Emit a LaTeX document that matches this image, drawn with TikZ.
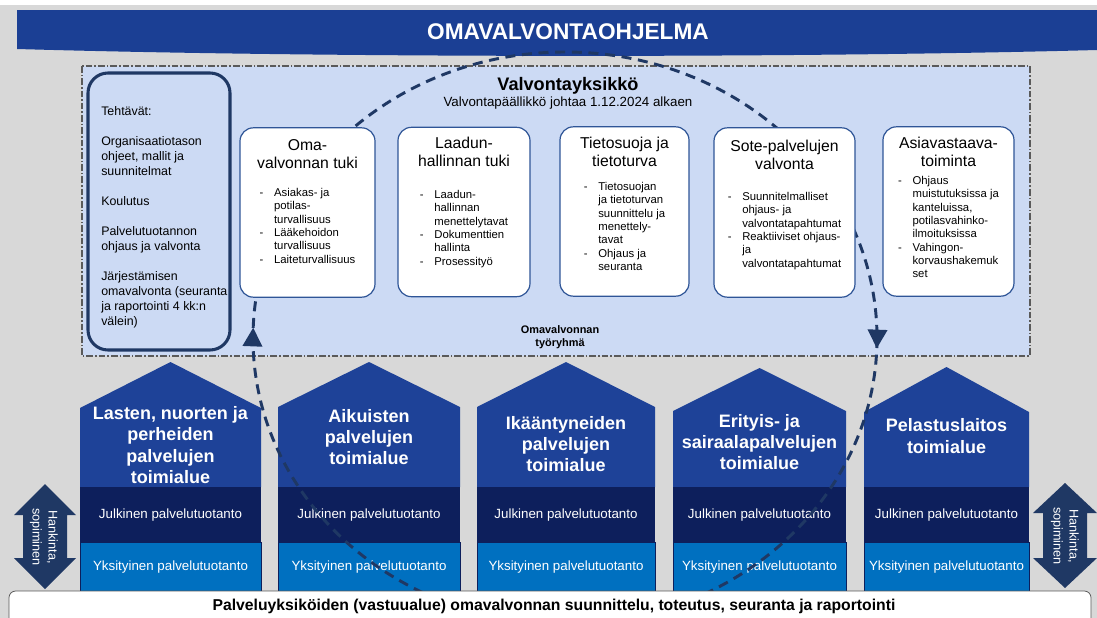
\documentclass[tikz,border=0pt]{standalone}
\usepackage{fontspec}
\setmainfont{Liberation Sans}
\usetikzlibrary{calc,arrows.meta,decorations.markings}

\definecolor{bannerblue}{HTML}{1B3F94}
\definecolor{houseblue}{HTML}{1E4298}
\definecolor{paleblue}{HTML}{CCDAF4}
\definecolor{navy}{HTML}{0D1F5C}
\definecolor{arrownavy}{HTML}{1F3864}
\definecolor{privblue}{HTML}{0070C0}
\definecolor{boxline}{HTML}{2F5597}
\definecolor{bggrey}{HTML}{D8D8D8}
\definecolor{framegrey}{HTML}{5A5A5A}

\tikzset{
  bannertext/.style={text=white, font=\bfseries\fontsize{17}{20}\selectfont},
  unitframe/.style={draw=framegrey, fill=paleblue, line width=0.8pt,
    dash pattern=on 5pt off 1.5pt on 1.2pt off 1.5pt},
  unittitle/.style={font=\bfseries\fontsize{13.6}{16}\selectfont},
  unitsub/.style={font=\fontsize{10}{12}\selectfont},
  groupname/.style={font=\bfseries\fontsize{8.2}{10}\selectfont, align=center},
  taskbox/.style={draw=arrownavy, line width=2.3pt, rounded corners=15pt,
    minimum width=106.5pt, minimum height=207.75pt, inner sep=0pt},
  tasktext/.style={font=\fontsize{9.3}{11.25}\selectfont, align=left,
    anchor=north west, inner sep=0pt},
  valbox/.style={draw=boxline, line width=0.9pt, fill=white, rounded corners=10pt,
    minimum height=127pt, inner sep=0pt},
  boxtitle/.style={font=\fontsize{11.8}{13.5}\selectfont, align=center,
    anchor=north, inner sep=0pt},
  itemlist/.style={font=\fontsize{8.5}{10}\selectfont, anchor=north, inner sep=0pt},
  housetitle/.style={text=white, font=\bfseries\fontsize{13.5}{16}\selectfont, align=center},
  sectortext/.style={text=white, font=\fontsize{10}{12}\selectfont},
  cycleline/.style={draw=arrownavy, line width=2.2pt, dash pattern=on 7.5pt off 5pt,
    postaction={decorate},
    decoration={markings,
      mark=at position 0.0055 with {\arrow{Triangle[length=14pt,width=14.5pt]}},
      mark=at position 0.5055 with {\arrow{Triangle[length=14pt,width=14.5pt]}}}},
  basebar/.style={draw=framegrey, line width=0.6pt, fill=white, rounded corners=5pt,
    minimum width=811.5pt, minimum height=29.25pt},
  basetext/.style={font=\bfseries\fontsize{11.8}{14}\selectfont},
  sidetext/.style={text=white, font=\fontsize{9.5}{12}\selectfont, align=center, rotate=-90},
}

\newcommand{\itemrows}[1]{\begin{tabular}{@{}l@{\hspace{8pt}}l@{}}#1\end{tabular}}

\begin{document}
\begin{tikzpicture}[x=0.75pt,y=-0.75pt]
  \useasboundingbox (0,0) rectangle (1097,618);
  \fill[white] (0,0) rectangle (1097,618);
  \fill[bggrey] (0,5) rectangle (1097,618);

  % banner
  \fill[bannerblue] (17,10) -- (1097,10) -- (1097,50) .. controls (800,58) and (330,58) .. (17,49) -- cycle;
  \node[bannertext] (ohjelma) at (568,32) {OMAVALVONTAOHJELMA};

  % valvontayksikko
  \draw[unitframe] (82,66) rectangle (1030,356);
  \node[unittitle] (yksikko) at (568,86) {Valvontayksikkö};
  \node[unitsub] (johtaa) at (568,103) {Valvontapäällikkö johtaa 1.12.2024 alkaen};
  \node[groupname] (tyoryhma) at (560,337) {Omavalvonnan\\työryhmä};

  % toimialueet
  \foreach \xl/\xr/\pk/\sh [count=\i] in {80/261/362/408, 278/460/362/407,
      477/655/362/407, 673/846/368/411, 864/1029/367/412}{
    \fill[houseblue] (\xl,487) -- (\xl,\sh) -- ({(\xl+\xr)/2},\pk) -- (\xr,\sh) -- (\xr,487) -- cycle;
    \fill[navy] (\xl,487) rectangle (\xr,542);
    \filldraw[fill=privblue, draw=navy, line width=0.5pt] (\xl,542) rectangle (\xr,591);
    \node[sectortext] (j\i) at ({(\xl+\xr)/2},515) {Julkinen palvelutuotanto};
    \node[sectortext] (y\i) at ({(\xl+\xr)/2},567) {Yksityinen palvelutuotanto};
  }
  \node[housetitle] (h1) at (170.5,445) {Lasten, nuorten ja\\perheiden\\palvelujen\\toimialue};
  \node[housetitle] (h2) at (369,437) {Aikuisten\\palvelujen\\toimialue};
  \node[housetitle] (h3) at (566,444) {Ikääntyneiden\\palvelujen\\toimialue};
  \node[housetitle] (h4) at (759.5,442) {Erityis- ja\\sairaalapalvelujen\\toimialue};
  \node[housetitle] (h5) at (946.5,436) {Pelastuslaitos\\toimialue};

  % kierto
  \draw[cycleline] (565,338) ellipse [x radius=312, y radius=286];

  % tehtavat
  \node[taskbox] (tehtavat) at (159,211.5) {};
  \node[tasktext] (tlist) at (101,106) {Tehtävät:\\[11.25pt]
    Organisaatiotason\\ohjeet, mallit ja\\suunnitelmat\\[11.25pt]
    Koulutus\\[11.25pt]
    Palvelutuotannon\\ohjaus ja valvonta\\[11.25pt]
    Järjestämisen\\omavalvonta (seuranta\\ja raportointi 4 kk:n\\välein)};

  % yksikot
  \node[valbox, minimum width=101.25pt] (b1) at (307.5,212.5) {};
  \node[valbox, minimum width=99pt] (b2) at (464,212) {};
  \node[valbox, minimum width=96.75pt] (b3) at (624.5,211.5) {};
  \node[valbox, minimum width=105.75pt] (b4) at (784.5,212.5) {};
  \node[valbox, minimum width=98.25pt] (b5) at (948.5,211.5) {};

  \node[boxtitle] (t1) at (307.5,139) {Oma-\\valvonnan tuki};
  \node[boxtitle] (t2) at (464,137) {Laadun-\\hallinnan tuki};
  \node[boxtitle] (t3) at (624.5,137) {Tietosuoja ja\\tietoturva};
  \node[boxtitle] (t4) at (784.5,140) {Sote-palvelujen\\valvonta};
  \node[boxtitle] (t5) at (948.5,137) {Asiavastaava-\\toiminta};

  \node[itemlist] (l1) at (307.5,187) {\itemrows{-&Asiakas- ja\\&potilas-\\&turvallisuus\\
    -&Lääkehoidon\\&turvallisuus\\-&Laiteturvallisuus}};
  \node[itemlist] (l2) at (464,189) {\itemrows{-&Laadun-\\&hallinnan\\&menettelytavat\\
    -&Dokumenttien\\&hallinta\\-&Prosessityö}};
  \node[itemlist] (l3) at (624.5,181) {\itemrows{-&Tietosuojan\\&ja tietoturvan\\&suunnittelu ja\\
    &menettely-\\&tavat\\-&Ohjaus ja\\&seuranta}};
  \node[itemlist] (l4) at (784.5,191) {\itemrows{-&Suunnitelmalliset\\&ohjaus- ja\\&valvontatapahtumat\\
    -&Reaktiiviset ohjaus-\\&ja\\&valvontatapahtumat}};
  \node[itemlist] (l5) at (948.5,175) {\itemrows{-&Ohjaus\\&muistutuksissa ja\\&kanteluissa,\\
    &potilasvahinko-\\&ilmoituksissa\\-&Vahingon-\\&korvaushakemuk\\&set}};

  % palveluyksikot
  \node[basebar] (pohja) at (550,610.5) {};
  \node[basetext] (vastuu) at (554,606) {Palveluyksiköiden (vastuualue) omavalvonnan suunnittelu, toteutus, seuranta ja raportointi};

  % hankinta
  \fill[arrownavy] (45,484) -- (76,515) -- (67,515) -- (67,558) -- (76,558) -- (45,589)
    -- (14,558) -- (23,558) -- (23,515) -- (14,515) -- cycle;
  \fill[arrownavy] (1065,483) -- (1097,513) -- (1087,513) -- (1087,558) -- (1097,558) -- (1065,588)
    -- (1033,558) -- (1043,558) -- (1043,513) -- (1033,513) -- cycle;
  \node[sidetext] (hleft) at (44,537) {Hankinta,\\sopiminen};
  \node[sidetext] (hright) at (1065,536) {Hankinta,\\sopiminen};
\end{tikzpicture}
\end{document}
